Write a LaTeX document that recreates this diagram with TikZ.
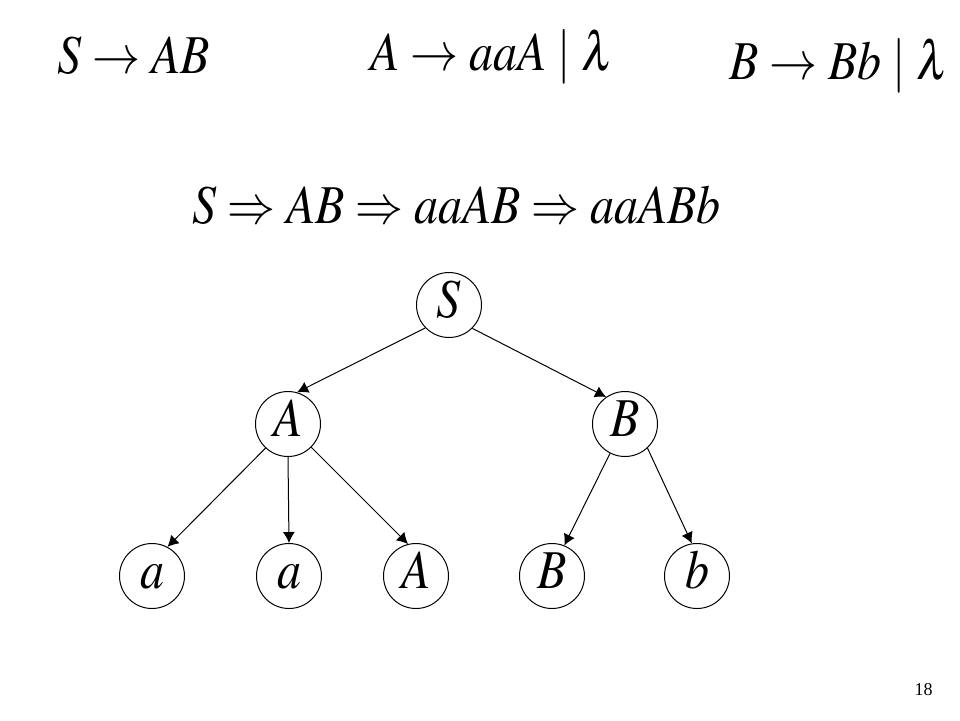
\documentclass[tikz,border=0pt]{standalone}
\usepackage{mathptmx}
\usepackage[no-math]{fontspec}
\setmainfont{Liberation Serif}
\usetikzlibrary{arrows.meta}

\newcommand{\tall}[1]{\scalebox{1}[1.14]{#1}}

\tikzset{
  sym/.style={circle,draw,line width=0.5pt,minimum size=32.5pt,inner sep=0pt,
    text height=14pt,text depth=2pt,font=\fontsize{24}{28}\selectfont},
  edge/.style={line width=0.5pt,-{Latex[length=5.5pt,width=6pt]}},
  rule/.style={anchor=base west,inner sep=0pt,font=\fontsize{24}{28}\selectfont},
}

\begin{document}
\begin{tikzpicture}[x=0.5pt,y=-0.5pt]
\useasboundingbox (0,0) rectangle (960,720);
% Rules
\node[rule] (ruleS) at (57,73) {\tall{$S \rightarrow AB$}};
\node[rule] (ruleA) at (370,70) {\tall{$A \rightarrow aaA \mid \lambda$}};
\node[rule] (ruleB) at (729,79) {\tall{$B \rightarrow Bb \mid \lambda$}};
% Derivation
\node[rule] (deriv) at (192,223) {\tall{$S \Rightarrow AB \Rightarrow aaAB \Rightarrow aaABb$}};
% Tree
\node[sym] (S) at (449,305) {\tall{$S$}};
\node[sym] (A) at (288,424) {\tall{$A$}};
\node[sym] (B) at (625,424) {\tall{$B$}};
\node[sym] (a1) at (152,576) {\tall{$a$}};
\node[sym] (a2) at (289,576) {\tall{$a$}};
\node[sym] (A2) at (416,576) {\tall{$A$}};
\node[sym] (B2) at (552,576) {\tall{$B$}};
\node[sym] (b) at (697,576) {\tall{$b$}};
\draw[edge] (S.224) -- (A.74); % S to A
\draw[edge] (S.315) -- (B.125); % S to B
\draw[edge] (A.227) -- (a1.62); % A to a
\draw[edge] (A.270) -- (a2.90); % A to a
\draw[edge] (A.315) -- (A2.104); % A to A
\draw[edge] (B.243) -- (B2.68); % B to B
\draw[edge] (B.313) -- (b.99); % B to b
% Page number
\node[anchor=base east,inner sep=0pt,font=\fontsize{9}{10}\selectfont] (page) at (933,695) {18};
\end{tikzpicture}
\end{document}
